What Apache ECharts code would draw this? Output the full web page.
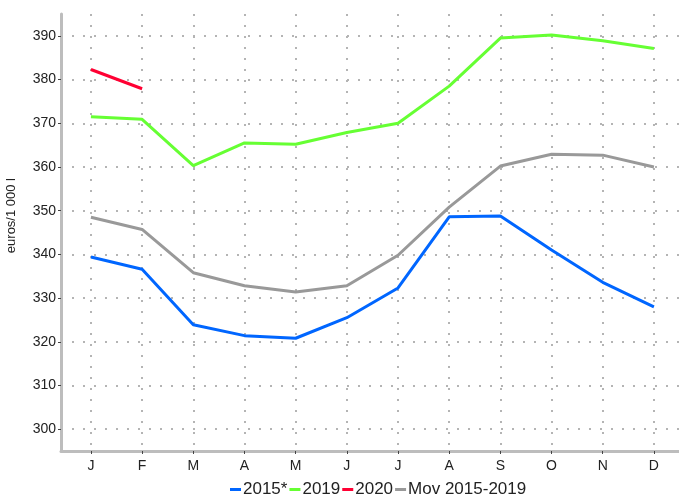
<!DOCTYPE html>
<html>
<head>
    <meta charset="utf-8">
    <title>ECharts</title>
    <script type="text/javascript" src="https://cdn.jsdelivr.net/npm/echarts@6/dist/echarts.min.js"></script>
    <style>
        html, body { margin: 0; padding: 0; background: #fff; }
    </style>
</head>
<body>
    <div id="chart" style="width: 679px;height:497px;"></div>
</body>
<script type="text/javascript">
    // 月份
    var months = ['J', 'F', 'M', 'A', 'M', 'J', 'J', 'A', 'S', 'O', 'N', 'D'];
    var yTicks = [300, 310, 320, 330, 340, 350, 360, 370, 380, 390];
    var s2015 = [339.4, 336.6, 323.9, 321.4, 320.8, 325.5, 332.3, 348.6, 348.8, 341.0, 333.6, 328.0];
    var s2019 = [371.5, 370.9, 360.3, 365.5, 365.2, 367.9, 370.0, 378.5, 389.5, 390.2, 388.9, 387.1];
    var s2020 = [382.3, 377.9];
    var sMov = [348.5, 345.7, 335.8, 332.8, 331.4, 332.8, 339.8, 350.8, 360.2, 362.9, 362.7, 360.0];

    function pairs(arr) {
        return arr.map(function (v, i) { return [i, v]; });
    }

    var dotted = { color: '#b4b4b4', width: 2, type: [2, 9] };
    var chart = echarts.init(document.getElementById("chart"));
    chart.setOption({
        animation: false,
        grid: { left: 61, right: -1, top: 14, bottom: 46 },
        legend: {
            top: 476,
            left: 225,
            icon: 'rect',
            itemWidth: 11,
            itemHeight: 3,
            itemGap: 2,
            textStyle: { fontFamily: 'Liberation Sans', fontSize: 17, color: '#222', padding: [0, 0, 0, -3] },
            data: ['2015*', '2019', '2020', 'Mov 2015-2019']
        },
        graphic: [{
            type: 'text',
            left: 5,
            top: 178,
            rotation: Math.PI / 2,
            style: { text: 'euros/1 000 l', font: '13px "Liberation Sans"', fill: '#222' }
        }],
        xAxis: {
            type: 'value',
            min: -0.585,
            max: 11.49,
            axisLine: { onZero: false, lineStyle: { color: '#bdbdbd', width: 3 } },
            axisTick: { customValues: [0, 1, 2, 3, 4, 5, 6, 7, 8, 9, 10, 11], length: 3, lineStyle: { color: '#444' } },
            axisLabel: {
                customValues: [0, 1, 2, 3, 4, 5, 6, 7, 8, 9, 10, 11],
                formatter: function (v) { return months[Math.round(v)]; },
                fontFamily: 'Liberation Sans', fontSize: 14, color: '#222', margin: 8
            },
            splitLine: { show: true, lineStyle: dotted }
        },
        yAxis: {
            type: 'value',
            min: 295,
            max: 395,
            axisLine: { show: true, onZero: false, lineStyle: { color: '#bdbdbd', width: 3 } },
            axisTick: { show: true, customValues: yTicks, length: 3, lineStyle: { color: '#444' } },
            axisLabel: { customValues: yTicks, fontFamily: 'Liberation Sans', fontSize: 14, color: '#222', margin: 5 },
            splitLine: { show: true, lineStyle: dotted }
        },
        series: [
            { name: '2015*', type: 'line', data: pairs(s2015), showSymbol: false, color: '#0066ff', lineStyle: { width: 3 } },
            { name: '2019', type: 'line', data: pairs(s2019), showSymbol: false, color: '#66ff33', lineStyle: { width: 3 } },
            { name: '2020', type: 'line', data: pairs(s2020), showSymbol: false, color: '#ff0033', lineStyle: { width: 3 } },
            { name: 'Mov 2015-2019', type: 'line', data: pairs(sMov), showSymbol: false, color: '#999999', lineStyle: { width: 3 } }
        ]
    });
</script>
</html>
